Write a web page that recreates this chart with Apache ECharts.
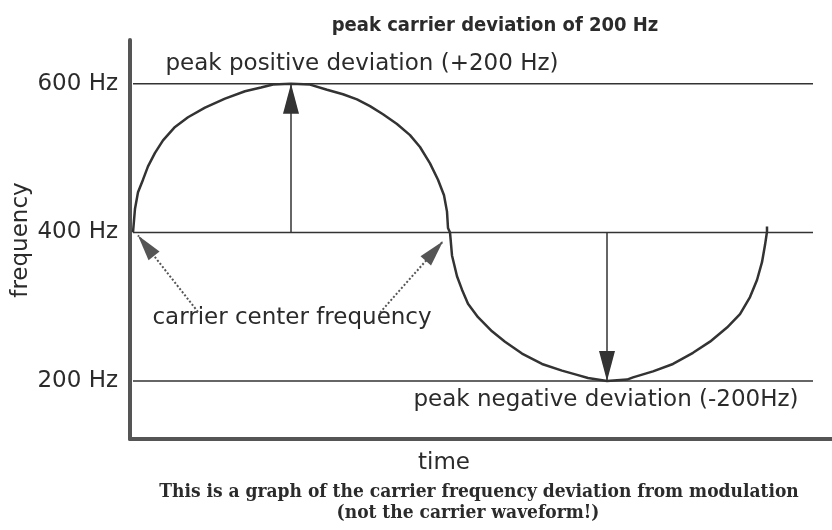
<!DOCTYPE html>
<html>
<head>
<meta charset="utf-8">
<title>carrier frequency deviation</title>
<script src="https://cdn.jsdelivr.net/npm/echarts@6/dist/echarts.min.js"></script>
<style>
  html, body { margin: 0; background: #fff; }
  #main { width: 832px; height: 530px; }
</style>
</head>
<body>
<div id="main"></div>
<script>
// curve: time (arbitrary units) and frequency (Hz)
var curveTime = [3, 5, 8, 13, 18, 25, 33, 45, 58, 75, 95, 115, 131, 143, 161, 180, 197, 213, 227, 240,
  253, 267, 280, 290, 300, 308, 314, 317, 318, 320,
  322, 327, 332, 338, 348, 362, 375, 392, 412, 432, 448, 458, 477, 497, 503, 523, 543, 563, 580, 597,
  610, 620, 627, 632, 635, 637, 637];
var curveFreq = [400, 432, 454, 471, 489, 507, 524, 542, 555, 568, 580, 590, 595, 599, 600, 599, 592, 586, 579, 570,
  559, 546, 531, 515, 493, 471, 450, 428, 406, 400,
  369, 341, 323, 304, 286, 267, 253, 237, 223, 214, 208, 204, 200, 202, 205, 213, 223, 238, 253, 272,
  290, 313, 336, 360, 383, 401, 408];

// reference levels and tick labels
var levelValues = [200, 400, 600];
var levelStart = 3;
var levelEnd = 683;

// arrows: [from, to] in (time, Hz)
var deviationArrows = [
  [[161, 400], [161, 600]],
  [[477, 400], [477, 200]]
];
var centerPointers = [
  [[68, 293], [8, 396]],
  [[250, 292], [313, 388]]
];

var ink = '#2b2b2b';
var sans = 'DejaVu Sans';

var myChart = echarts.init(document.getElementById('main'));

var curveData = [];
for (var i = 0; i < curveTime.length; i++) {
  curveData.push([curveTime[i], curveFreq[i]]);
}

function toMarkLine(list) {
  return list.map(function (a) {
    return [{ coord: a[0] }, { coord: a[1] }];
  });
}

function text(str, x, y, font, extra) {
  var el = {
    type: 'text', x: x, y: y, silent: true,
    style: { text: str, font: font, fill: ink, align: 'center', verticalAlign: 'middle' }
  };
  if (extra) Object.assign(el, extra);
  return el;
}

var series = [];
levelValues.forEach(function (v) {
  series.push({
    type: 'line',
    data: [[levelStart, v], [levelEnd, v]],
    symbol: 'none',
    silent: true,
    lineStyle: { color: '#333', width: 1.5 }
  });
});
series.push({
  type: 'line',
  data: curveData,
  showSymbol: false,
  silent: true,
  lineStyle: { color: '#333', width: 2.5 }
});
series.push({
  type: 'line',
  data: [],
  markLine: {
    silent: true,
    symbol: ['none', 'triangle'],
    symbolSize: [16, 30],
    symbolOffset: [0, [0, '50%']],
    label: { show: false },
    lineStyle: { color: '#333', width: 1.5, type: 'solid' },
    emphasis: { disabled: true },
    data: toMarkLine(deviationArrows)
  }
});
series.push({
  type: 'line',
  data: [],
  markLine: {
    silent: true,
    symbol: ['none', 'triangle'],
    symbolSize: [14, 26],
    symbolOffset: [0, [0, '50%']],
    label: { show: false },
    lineStyle: { color: '#555', width: 2, type: 'dotted' },
    emphasis: { disabled: true },
    data: toMarkLine(centerPointers)
  }
});

myChart.setOption({
  animation: false,
  grid: { left: 130, right: 0, top: 40, bottom: 91 },
  xAxis: {
    type: 'value',
    min: 0,
    max: 702,
    axisLine: { lineStyle: { color: '#555', width: 4 } },
    axisTick: { show: false },
    axisLabel: { show: false },
    splitLine: { show: false }
  },
  yAxis: {
    type: 'value',
    min: 122,
    max: 659,
    axisLine: { show: true, lineStyle: { color: '#555', width: 4 } },
    axisTick: { show: false },
    splitLine: { show: false },
    axisLabel: {
      customValues: levelValues,
      formatter: '{value} Hz',
      fontSize: 23,
      fontFamily: sans,
      color: ink,
      margin: 12
    }
  },
  series: series,
  graphic: [
    text('peak carrier deviation of 200 Hz', 495, 26, 'bold 20px "DejaVu Sans Condensed"'),
    text('peak positive deviation (+200 Hz)', 362, 64, '23px ' + sans),
    text('carrier center frequency', 292, 318, '23px ' + sans),
    text('peak negative deviation (-200Hz)', 606, 400, '23px ' + sans),
    text('time', 444, 463, '23px ' + sans),
    text('frequency', 21, 240, '23px ' + sans, { rotation: Math.PI / 2 }),
    text('This is a graph of the carrier frequency deviation from modulation', 479, 492, 'bold 19px "DejaVu Serif Condensed"'),
    text('(not the carrier waveform!)', 468, 513, 'bold 19px "DejaVu Serif Condensed"')
  ]
});
</script>
</body>
</html>
